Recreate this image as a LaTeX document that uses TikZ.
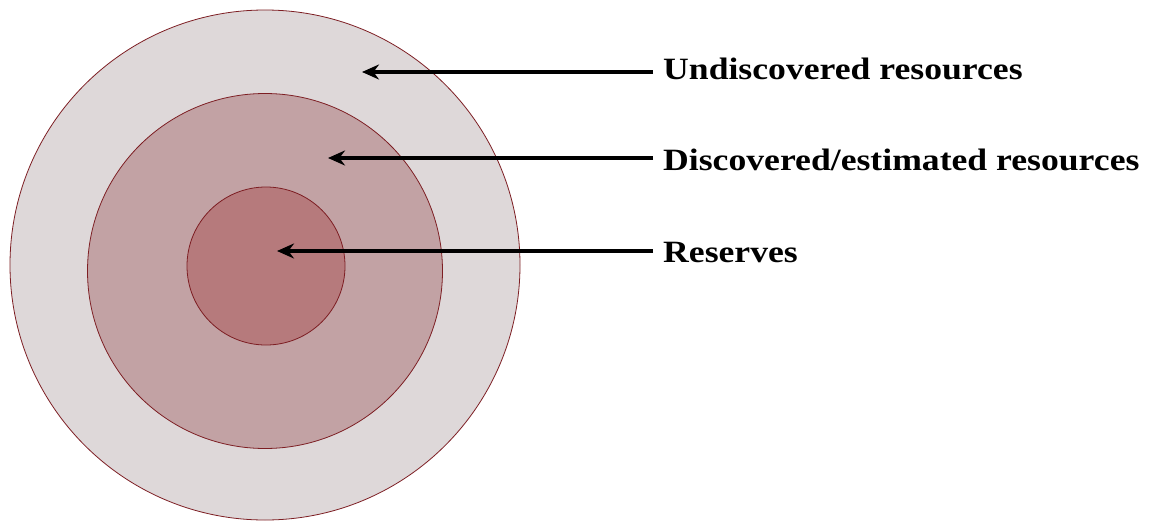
\documentclass[tikz,border=0pt]{standalone}
\usepackage{fontspec}
\setmainfont{Liberation Serif}
\newfontfamily\lblfont[FakeStretch=1.15]{Liberation Serif}
\usetikzlibrary{arrows.meta}
\definecolor{outerfill}{RGB}{222,216,217}
\definecolor{midfill}{RGB}{194,162,164}
\definecolor{innerfill}{RGB}{182,122,124}
\definecolor{ringline}{RGB}{125,30,35}
\tikzset{
  ring/.style={circle, draw=ringline, line width=0.8pt, inner sep=0pt},
  lbl/.style={anchor=base west, inner sep=0pt, font=\lblfont\bfseries\fontsize{31}{36}\selectfont},
  pointer/.style={line width=3.8pt, -{Stealth[length=17pt,width=15pt]}}
}
\begin{document}
\begin{tikzpicture}[x=1pt,y=-1pt]
\useasboundingbox (0,0) rectangle (1149,525);
\node[ring, fill=outerfill, minimum size=510pt] (outer) at (265,265) {};
\node[ring, fill=midfill, minimum size=355pt] (mid) at (265,271) {};
\node[ring, fill=innerfill, minimum size=158pt] (inner) at (266,266) {};
\coordinate (t1) at (362,72);
\coordinate (t2) at (328,158);
\coordinate (t3) at (277,251);
\node[lbl] (l1) at (663,79) {Undiscovered resources};
\node[lbl] (l2) at (663,170) {Discovered/estimated resources};
\node[lbl] (l3) at (663,262) {Reserves};
\draw[pointer] (l1.west |- t1) ++(-10,0) -- (t1);
\draw[pointer] (l2.west |- t2) ++(-10,0) -- (t2);
\draw[pointer] (l3.west |- t3) ++(-10,0) -- (t3);
\end{tikzpicture}
\end{document}
